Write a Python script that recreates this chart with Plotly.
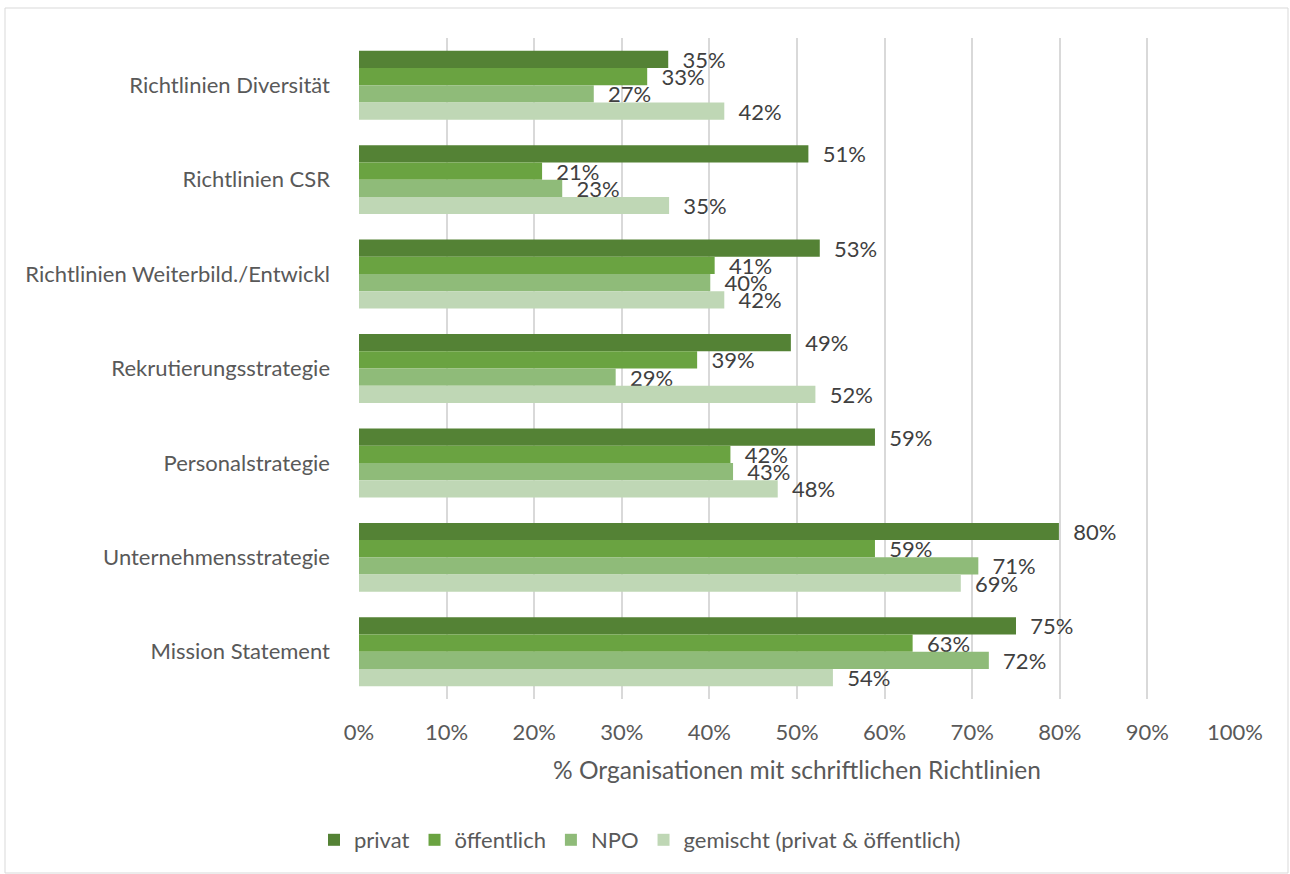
import plotly.graph_objects as go

# Categories (top to bottom) and share of organisations per sector
categories = [
    "Richtlinien Diversität",
    "Richtlinien CSR",
    "Richtlinien Weiterbild./Entwickl",
    "Rekrutierungsstrategie",
    "Personalstrategie",
    "Unternehmensstrategie",
    "Mission Statement",
]
privat = [0.353, 0.513, 0.526, 0.493, 0.589, 0.799, 0.750]
oeffentlich = [0.329, 0.209, 0.406, 0.386, 0.424, 0.589, 0.632]
npo = [0.268, 0.232, 0.401, 0.293, 0.427, 0.707, 0.719]
gemischt = [0.417, 0.354, 0.417, 0.521, 0.478, 0.687, 0.541]

series_names = ["privat", "öffentlich", "NPO", "gemischt (privat & öffentlich)"]
series_values = [privat, oeffentlich, npo, gemischt]
series_colors = ["#548235", "#6AA341", "#8FBB79", "#BFD7B5"]

tick_vals = [i / 10 for i in range(11)]
tick_text = [f"{i * 10}%" for i in range(11)]

FONT = "Lato"
GRAY = "#595959"
FS = 22

fig = go.Figure()
for name, vals, col in zip(series_names, series_values, series_colors):
    fig.add_trace(go.Bar(
        y=categories,
        x=vals,
        name=name,
        orientation="h",
        marker=dict(color=col, line=dict(width=0)),
        texttemplate="\u00a0\u00a0%{x:.0%}",
        textposition="outside",
        constraintext="none",
        cliponaxis=False,
        textfont=dict(family=FONT, size=FS, color="#404040"),
    ))

W, H = 1290, 874
L, R, T, B = 359, 55, 38, 175
pw, ph = W - L - R, H - T - B


def px_to_paper_x(px):
    return (px - L) / pw


def px_to_paper_y(py):
    return (H - B - py) / ph


fig.update_layout(
    width=W,
    height=H,
    margin=dict(l=L, r=R, t=T, b=B),
    paper_bgcolor="white",
    plot_bgcolor="white",
    barmode="group",
    bargap=0.27,
    bargroupgap=0,
    font=dict(family=FONT, color=GRAY, size=FS),
    showlegend=True,
    legend=dict(
        orientation="h",
        x=px_to_paper_x(640),
        xanchor="center",
        y=px_to_paper_y(840),
        yanchor="middle",
        traceorder="normal",
        font=dict(family=FONT, size=FS, color=GRAY),
        itemwidth=30,
    ),
    xaxis=dict(
        range=[0, 1],
        tickvals=tick_vals,
        ticktext=tick_text,
        showgrid=True,
        gridcolor="#D9D9D9",
        gridwidth=1.5,
        zeroline=False,
        showline=False,
        ticks="",
        ticklabelstandoff=18,
        tickfont=dict(family=FONT, size=FS, color=GRAY),
        title=dict(
            text="% Organisationen mit schriftlichen Richtlinien",
            font=dict(family=FONT, size=24.5, color=GRAY),
            standoff=17,
        ),
        fixedrange=True,
    ),
    yaxis=dict(
        autorange="reversed",
        showgrid=False,
        showline=False,
        ticks="",
        ticklabelstandoff=28,
        tickfont=dict(family=FONT, size=FS, color=GRAY),
    ),
    shapes=[
        dict(
            type="rect",
            xref="paper", yref="paper",
            x0=px_to_paper_x(5), x1=px_to_paper_x(1288),
            y0=px_to_paper_y(873), y1=px_to_paper_y(8),
            line=dict(color="#D9D9D9", width=1),
            fillcolor="rgba(0,0,0,0)",
            layer="below",
        )
    ],
)

fig.write_html("out.html")
